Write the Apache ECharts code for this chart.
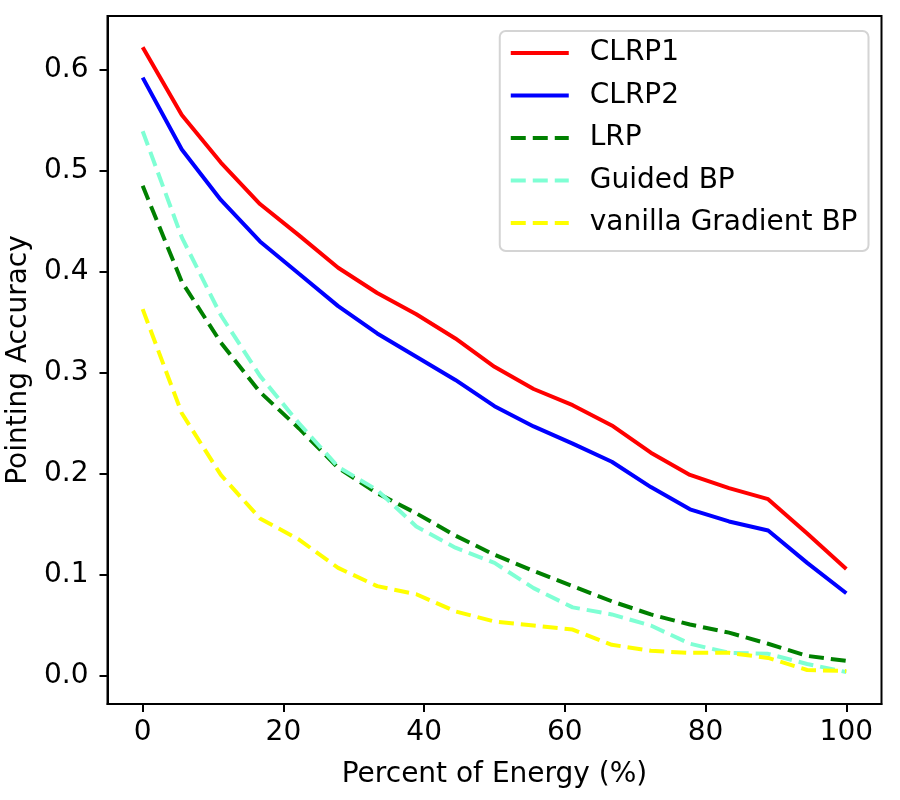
<!DOCTYPE html>
<html>
<head>
<meta charset="utf-8">
<script src="https://cdn.jsdelivr.net/npm/echarts@6/dist/echarts.min.js"></script>
<style>
html,body{margin:0;padding:0;background:#fff;}
#chart{width:900px;height:800px;}
</style>
</head>
<body>
<div id="chart"></div>
<script>
const xValues = [0, 5.56, 11.11, 16.67, 22.22, 27.78, 33.33, 38.89, 44.44, 50, 55.56, 61.11, 66.67, 72.22, 77.78, 83.33, 88.89, 94.44, 100];
const clrp1 = [0.622, 0.555, 0.508, 0.467, 0.436, 0.404, 0.379, 0.358, 0.334, 0.306, 0.284, 0.268, 0.248, 0.221, 0.199, 0.186, 0.175, 0.141, 0.106];
const clrp2 = [0.592, 0.521, 0.471, 0.430, 0.398, 0.366, 0.339, 0.316, 0.293, 0.267, 0.247, 0.230, 0.212, 0.187, 0.165, 0.153, 0.144, 0.112, 0.082];
const lrp = [0.485, 0.390, 0.330, 0.281, 0.245, 0.206, 0.181, 0.161, 0.139, 0.120, 0.104, 0.089, 0.074, 0.061, 0.051, 0.043, 0.032, 0.020, 0.015];
const guidedBP = [0.539, 0.434, 0.357, 0.297, 0.250, 0.207, 0.184, 0.148, 0.127, 0.112, 0.087, 0.068, 0.061, 0.050, 0.032, 0.023, 0.022, 0.012, 0.004];
const vanillaBP = [0.363, 0.260, 0.199, 0.156, 0.135, 0.107, 0.089, 0.081, 0.064, 0.054, 0.050, 0.046, 0.031, 0.025, 0.023, 0.023, 0.018, 0.006, 0.005];
const xTicks = [0, 20, 40, 60, 80, 100];
const yTicks = [0, 0.1, 0.2, 0.3, 0.4, 0.5, 0.6];
const seriesNames = ['CLRP1', 'CLRP2', 'LRP', 'Guided BP', 'vanilla Gradient BP'];

const pair = arr => xValues.map((x, i) => [x, arr[i]]);
const font = 'DejaVu Sans';
const fs = 28;
const dash = [15, 7];

const chart = echarts.init(document.getElementById('chart'), null, {renderer: 'canvas'});
function mkSeries(name, data, color, dashed) {
  return {
    name: name, type: 'line', data: pair(data), symbol: 'none', showSymbol: false,
    lineStyle: {color: color, width: 4, type: dashed ? dash : 'solid'},
    itemStyle: {color: color},
    emphasis: {disabled: true}, animation: false
  };
}
chart.setOption({
  animation: false,
  grid: {left: 107.5, right: 18.5, top: 16, bottom: 96, containLabel: false, outerBoundsMode: 'none',
         show: true, borderColor: '#000', borderWidth: 2, backgroundColor: 'transparent'},
  legend: {
    data: seriesNames,
    orient: 'vertical',
    right: 31.5, top: 31,
    padding: [8, 11, 14, 9],
    itemWidth: 58, itemHeight: 14, itemGap: 14.5,
    itemStyle: {opacity: 0},
    lineStyle: {width: 4},
    backgroundColor: '#fff', borderColor: '#d4d4d4', borderWidth: 2, borderRadius: 6,
    textStyle: {fontFamily: font, fontSize: fs, color: '#000', padding: [0, 0, 0, 16]}
  },
  xAxis: {
    type: 'value', min: -5, max: 105,
    name: 'Percent of Energy (%)', nameLocation: 'middle', nameGap: 57,
    nameTextStyle: {fontFamily: font, fontSize: fs, color: '#000'},
    axisLine: {show: true, onZero: false, lineStyle: {color: '#000', width: 2}},
    axisTick: {show: true, length: 8, lineStyle: {color: '#000', width: 2}, customValues: xTicks},
    axisLabel: {fontFamily: font, fontSize: fs, color: '#000', margin: 15, customValues: xTicks},
    splitLine: {show: false}
  },
  yAxis: {
    type: 'value', min: -0.0276, max: 0.653,
    name: 'Pointing Accuracy', nameLocation: 'middle', nameGap: 75, nameRotate: 90,
    nameTextStyle: {fontFamily: font, fontSize: fs, color: '#000'},
    axisLine: {show: true, onZero: false, lineStyle: {color: '#000', width: 2}},
    axisTick: {show: true, length: 8, lineStyle: {color: '#000', width: 2}, customValues: yTicks},
    axisLabel: {fontFamily: font, fontSize: fs, color: '#000', margin: 19, customValues: yTicks, formatter: v => v.toFixed(1)},
    splitLine: {show: false}
  },
  series: [
    mkSeries(seriesNames[0], clrp1, '#ff0000', false),
    mkSeries(seriesNames[1], clrp2, '#0000ff', false),
    mkSeries(seriesNames[2], lrp, '#008000', true),
    mkSeries(seriesNames[3], guidedBP, '#7fffd4', true),
    mkSeries(seriesNames[4], vanillaBP, '#ffff00', true)
  ]
});
</script>
</body>
</html>
